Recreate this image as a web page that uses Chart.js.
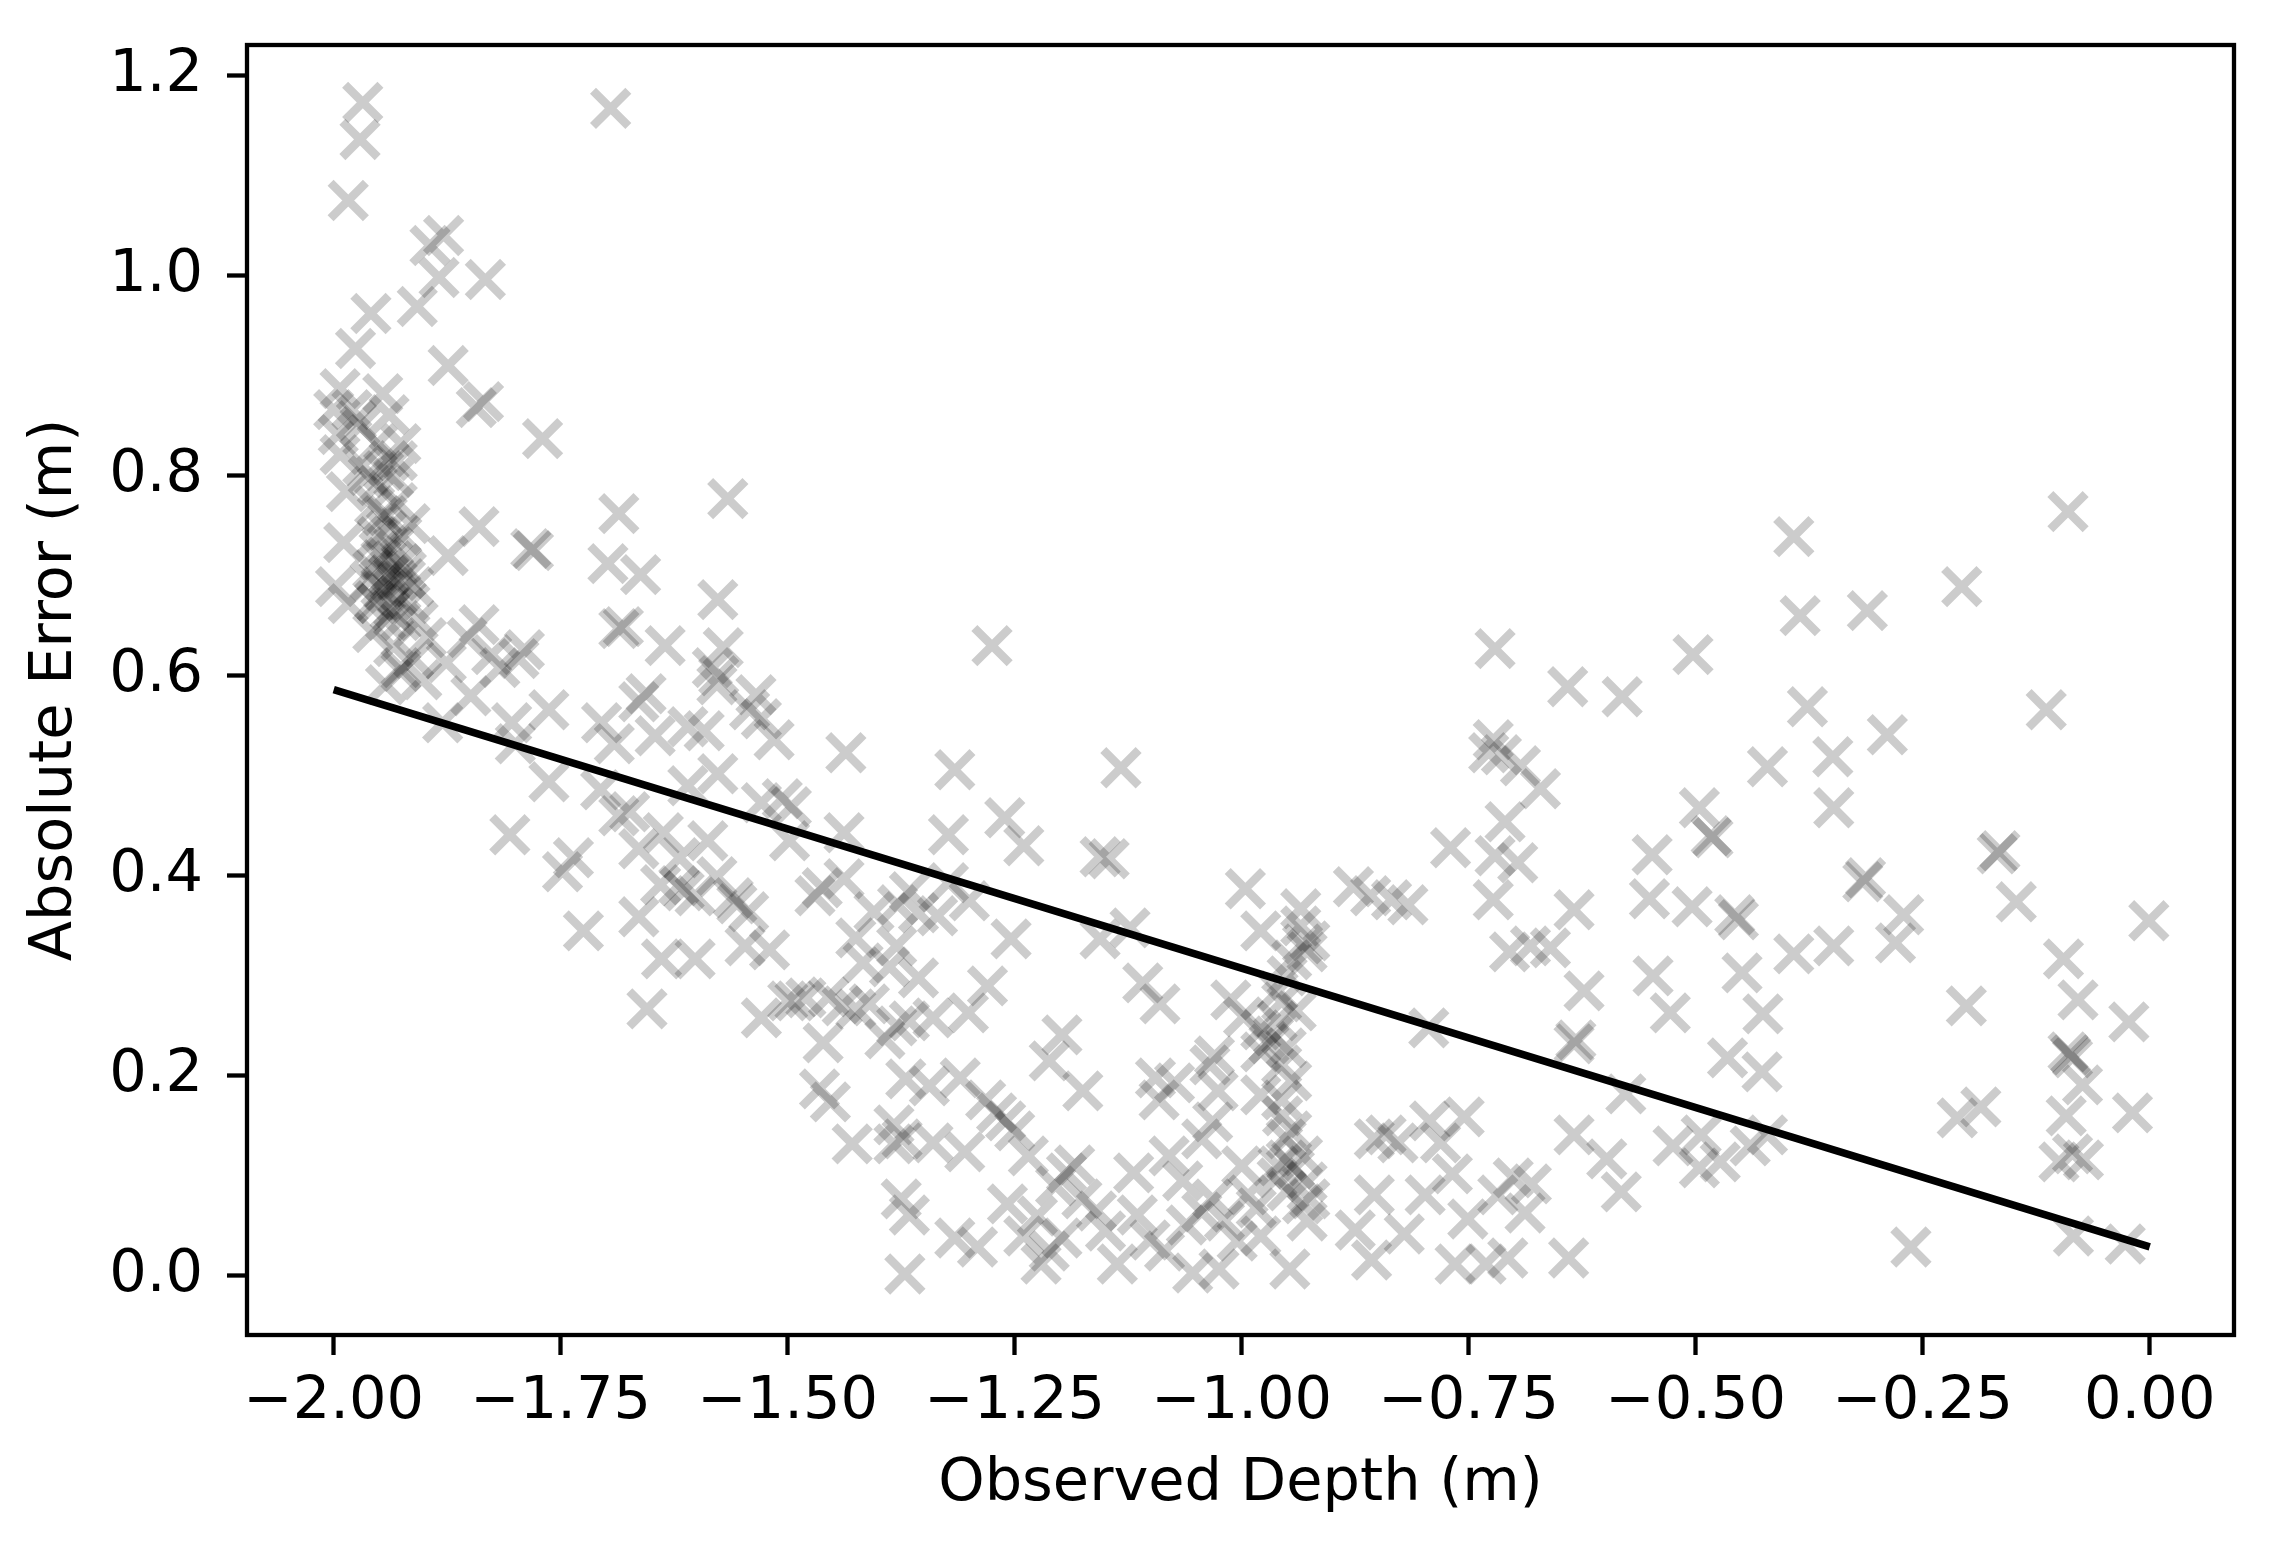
<!DOCTYPE html>
<html><head><meta charset="utf-8">
<script src="https://cdn.jsdelivr.net/npm/chart.js@4/dist/chart.umd.min.js"></script>
<style>html,body{margin:0;padding:0;background:#fff;} #wrap{width:2282px;height:1546px;}</style>
</head><body><div id="wrap"><canvas id="c" width="2282" height="1546"></canvas></div>
<script>
// ---- data ----
const depthA=[-1.968,-1.971,-1.984,-1.695,-1.879,-1.894,-1.884,-1.833,-1.959,-1.908,
-1.976,-1.874,-1.843,-1.835,-1.770,-1.566,-1.686,-1.840,-1.783,-1.780,
-1.698,-1.662,-1.874,-1.577,-1.686,-1.681,-1.635,-1.571,-1.790,-1.840,
-1.826,-1.576,-1.535];
const errorA=[1.173,1.136,1.075,1.167,1.040,1.030,0.998,0.996,0.962,0.969,
0.927,0.910,0.868,0.874,0.837,0.777,0.762,0.749,0.727,0.725,
0.712,0.701,0.720,0.676,0.647,0.649,0.630,0.628,0.626,0.651,
0.621,0.600,0.581];

const depthB=[-1.993,-1.946,-1.980,-2.000,-1.971,-1.995,-1.939,-1.952,-1.993,-1.939,
-1.926,-1.934,-1.986,-1.952,-1.930,-1.941,-1.916,-1.989,-1.952,-1.934,
-1.948,-1.926,-1.957,-1.939,-1.921,-1.998,-1.948,-1.930,-1.912,-1.952,
-1.934,-1.916,-1.943,-1.926,-1.984,-1.957,-1.907,-1.898,-1.934,-1.912,
-1.926,-1.943,-1.903,-1.876,-1.853,-1.940,-1.945,-1.935,-1.950,-1.930,
-1.942,-1.925,-1.955,-1.938,-1.920,-1.960,-1.947,-1.962,-1.968,-1.975,
-1.945,-1.930,-1.955];
const errorB=[0.887,0.882,0.866,0.866,0.849,0.841,0.861,0.832,0.821,0.815,
0.832,0.798,0.784,0.790,0.773,0.760,0.752,0.733,0.739,0.729,
0.716,0.712,0.706,0.701,0.697,0.689,0.689,0.680,0.689,0.672,
0.668,0.672,0.655,0.655,0.672,0.643,0.655,0.638,0.629,0.617,
0.604,0.591,0.596,0.613,0.638,0.700,0.685,0.715,0.725,0.695,
0.745,0.740,0.675,0.665,0.705,0.695,0.760,0.800,0.810,0.855,
0.805,0.815,0.770];

const depthC=[-1.926,-1.817,-1.796,-1.849,-1.880,-1.804,-1.763,-1.800,-1.705,-1.664,
-1.656,-1.691,-1.646,-1.583,-1.578,-1.592,-1.542,-1.515,-1.436,-1.763,
-1.706,-1.686,-1.674,-1.610,-1.577,-1.529,-1.496,-1.438,-1.806,-1.736,
-1.748,-1.664,-1.637,-1.588,-1.614,-1.602,-1.620,-1.556,-1.543,-1.560,
-1.547,-1.664,-1.639,-1.602,-1.725,-1.655,-1.470,-1.438,-1.498,-1.529,
-1.492,-1.455,-1.425,-1.461,-1.393,-1.465,-1.453,-1.429,-1.383,-1.375,
-1.366,-1.371,-1.405,-1.380,-1.366,-1.388,-1.366,-1.370,-1.383,-1.500,
-1.480,-1.440,-1.410,-1.610,-1.529,-1.506,-1.462,-1.425,-1.417,-1.619,
-1.640,-1.520,-1.578];
const errorC=[0.608,0.608,0.617,0.580,0.553,0.553,0.566,0.532,0.553,0.574,
0.582,0.532,0.540,0.608,0.591,0.545,0.566,0.536,0.523,0.494,
0.486,0.460,0.464,0.490,0.502,0.473,0.469,0.443,0.441,0.418,
0.404,0.427,0.443,0.435,0.385,0.380,0.390,0.372,0.364,0.378,
0.330,0.359,0.317,0.317,0.345,0.267,0.380,0.397,0.435,0.258,
0.275,0.279,0.267,0.233,0.237,0.187,0.174,0.132,0.132,0.077,
0.061,0.002,0.364,0.330,0.384,0.309,0.255,0.197,0.151,0.275,
0.278,0.270,0.272,0.549,0.557,0.477,0.388,0.338,0.313,0.418,
0.391,0.326,0.399];

const depthD=[-1.275,-0.721,-1.316,-1.133,-0.723,-0.714,-0.728,-0.693,-1.261,-1.323,
-1.240,-1.156,-1.146,-0.710,-0.770,-0.721,-0.696,-0.723,-0.705,-0.682,
-0.996,-0.877,-0.858,-0.835,-0.817,-0.935,-0.979,-0.933,-0.928,-0.945,
-1.379,-1.356,-1.323,-1.254,-1.123,-1.156,-0.794,-1.356,-1.301,-1.340,
-1.380,-1.109,-1.090,-1.198,-1.212,-1.175,-1.310,-1.344,-1.282,-1.270,
-1.305,-1.340,-1.374,-1.291,-1.316,-1.258,-1.212,-1.221,-1.198,-1.193,
-1.184,-1.205,-1.176,-1.137,-1.119,-1.115,-1.101,-1.054,-1.025,-1.044,
-1.032,-1.019,-1.061,-1.044,-1.032,-1.091,-1.095,-1.074,-1.035,-1.030,
-1.026,-0.998,-0.979,-0.961,-0.970,-0.951,-0.979,-0.956,-1.012,-0.956,
-0.979,-0.956,-0.951,-0.951,-0.942,-0.933,-0.961,-0.928,-0.993,-0.984,
-0.933,-0.928,-0.979,-0.947,-0.925,-0.854,-0.841,-0.828,-0.793,-0.755,
-0.781,-0.768,-0.854,-0.798,-0.821,-0.857,-0.751,-0.765,-0.731,-0.718,
-0.701,-0.688,-0.875,-0.950,-0.960,-0.940,-0.965,-0.945,-0.955,-0.945,
-0.960,-0.950,-0.935,-0.925,-1.300,-1.335,-1.280,-1.260,-1.250,-1.235,
-1.225,-1.240,-1.160,-1.150,-1.080,-1.065,-1.005,-1.000,-1.085];
const errorD=[0.630,0.627,0.506,0.508,0.536,0.521,0.523,0.510,0.458,0.441,
0.430,0.419,0.417,0.454,0.428,0.420,0.413,0.376,0.324,0.330,
0.387,0.389,0.380,0.376,0.371,0.367,0.345,0.332,0.324,0.316,
0.371,0.363,0.393,0.337,0.348,0.337,0.248,0.298,0.263,0.258,
0.250,0.293,0.272,0.241,0.215,0.185,0.198,0.190,0.176,0.163,
0.124,0.133,0.137,0.029,0.038,0.072,0.025,0.012,0.038,0.103,
0.111,0.090,0.077,0.012,0.103,0.061,0.036,0.003,0.007,0.064,
0.077,0.055,0.051,0.137,0.154,0.176,0.198,0.193,0.211,0.220,
0.185,0.259,0.246,0.255,0.232,0.228,0.224,0.211,0.276,0.274,
0.181,0.176,0.137,0.116,0.107,0.120,0.098,0.094,0.081,0.068,
0.072,0.055,0.040,0.007,0.077,0.137,0.141,0.133,0.155,0.159,
0.133,0.102,0.081,0.081,0.042,0.016,0.057,0.012,0.012,0.081,
0.098,0.063,0.046,0.300,0.285,0.265,0.240,0.195,0.160,0.145,
0.110,0.085,0.350,0.335,0.375,0.360,0.290,0.155,0.145,0.120,
0.060,0.040,0.065,0.045,0.120,0.095,0.035,0.110,0.025];

const depthE=[-0.090,-0.392,-0.207,-0.385,-0.311,-0.503,-0.641,-0.581,-0.114,-0.377,
-0.289,-0.349,-0.421,-0.671,-0.348,-0.496,-0.483,-0.481,-0.168,-0.165,
-0.316,-0.313,-0.548,-0.147,-0.551,-0.504,-0.634,-0.457,-0.453,-0.271,
-0.280,-0.001,-0.660,-0.392,-0.348,-0.095,-0.547,-0.449,-0.623,-0.079,
-0.202,-0.528,-0.426,-0.023,-0.634,-0.632,-0.090,-0.087,-0.085,-0.465,
-0.427,-0.074,-0.577,-0.019,-0.212,-0.186,-0.092,-0.634,-0.525,-0.494,
-0.421,-0.440,-0.473,-0.496,-0.100,-0.085,-0.073,-0.598,-0.582,-0.681,
-0.640,-0.707,-0.263,-0.084,-0.027];
const errorE=[0.764,0.739,0.689,0.660,0.665,0.621,0.589,0.579,0.566,0.569,
0.541,0.519,0.509,0.487,0.468,0.468,0.440,0.438,0.422,0.425,
0.394,0.398,0.421,0.374,0.377,0.369,0.366,0.361,0.356,0.361,
0.333,0.355,0.328,0.322,0.330,0.317,0.300,0.303,0.285,0.276,
0.270,0.263,0.262,0.254,0.232,0.236,0.224,0.221,0.218,0.218,
0.204,0.191,0.182,0.163,0.158,0.169,0.160,0.141,0.130,0.141,
0.141,0.130,0.114,0.108,0.114,0.122,0.116,0.117,0.084,0.092,
0.018,0.018,0.029,0.040,0.032];

// regression line endpoints
const fitDepth=[-2.0, 0.0];
const fitError=[0.586, 0.029];

// ticks
const xTickValues=[-2,-1.75,-1.5,-1.25,-1,-0.75,-0.5,-0.25,0];
const xTickLabels=['\u22122.00','\u22121.75','\u22121.50','\u22121.25','\u22121.00','\u22120.75','\u22120.50','\u22120.25','0.00'];
const yTickValues=[0,0.2,0.4,0.6,0.8,1.0,1.2];
const yTickLabels=['0.0','0.2','0.4','0.6','0.8','1.0','1.2'];

function pairs(xs, ys){ return xs.map((x,i)=>({x:x, y:ys[i]})); }
const scatterData=[].concat(pairs(depthA,errorA),pairs(depthB,errorB),pairs(depthC,errorC),pairs(depthD,errorD),pairs(depthE,errorE));

Chart.defaults.font.family="'DejaVu Sans', sans-serif";
Chart.defaults.color='#000';
const FS=59;

const frame={id:'frame', afterDatasetsDraw(chart){
  const {ctx, chartArea:a}=chart;
  ctx.save(); ctx.strokeStyle='#000'; ctx.lineWidth=4.3;
  ctx.strokeRect(a.left,a.top,a.right-a.left,a.bottom-a.top);
  ctx.restore();
}};

new Chart(document.getElementById('c'),{
  type:'scatter',
  data:{datasets:[
    {type:'line', data:pairs(fitDepth,fitError), borderColor:'#000', borderWidth:7.5, pointRadius:0, fill:false, order:0, borderCapStyle:'butt'},
    {type:'scatter', data:scatterData, pointStyle:'crossRot', pointRadius:25, pointBorderWidth:8.5,
     pointBorderColor:'rgba(0,0,0,0.2)', pointBackgroundColor:'rgba(0,0,0,0.2)', borderColor:'rgba(0,0,0,0.2)', order:1}
  ]},
  options:{
    responsive:false, animation:false, devicePixelRatio:1, events:[],
    layout:{padding:{left:0,right:48,top:45,bottom:0}},
    plugins:{legend:{display:false}, tooltip:{enabled:false}},
    scales:{
      x:{type:'linear', min:-2.0955, max:0.0928,
        afterFit(s){ s.height=211; s.paddingLeft=0; s.paddingRight=0; },
        afterBuildTicks(s){ s.ticks=xTickValues.map(v=>({value:v})); },
        ticks:{callback:(v,i)=>xTickLabels[i], color:'#000', font:{size:FS}, padding:12, maxRotation:0, minRotation:0, autoSkip:false},
        grid:{display:true, drawOnChartArea:false, drawTicks:true, tickLength:20, tickWidth:4.3, tickColor:'#000'},
        border:{display:false},
        title:{display:true, text:'Observed Depth (m)', color:'#000', font:{size:FS}, padding:{top:0,bottom:26}}
      },
      y:{type:'linear', min:-0.059, max:1.2304,
        afterFit(s){ s.width=247; s.paddingTop=0; s.paddingBottom=0; },
        afterBuildTicks(s){ s.ticks=yTickValues.map(v=>({value:v})); },
        ticks:{callback:(v,i)=>yTickLabels[i], color:'#000', font:{size:FS}, padding:24, autoSkip:false},
        grid:{display:true, drawOnChartArea:false, drawTicks:true, tickLength:20, tickWidth:4.3, tickColor:'#000'},
        border:{display:false},
        title:{display:true, text:'Absolute Error (m)', color:'#000', font:{size:FS}, padding:{top:20,bottom:0}}
      }
    }
  },
  plugins:[frame]
});
</script>
</body></html>
